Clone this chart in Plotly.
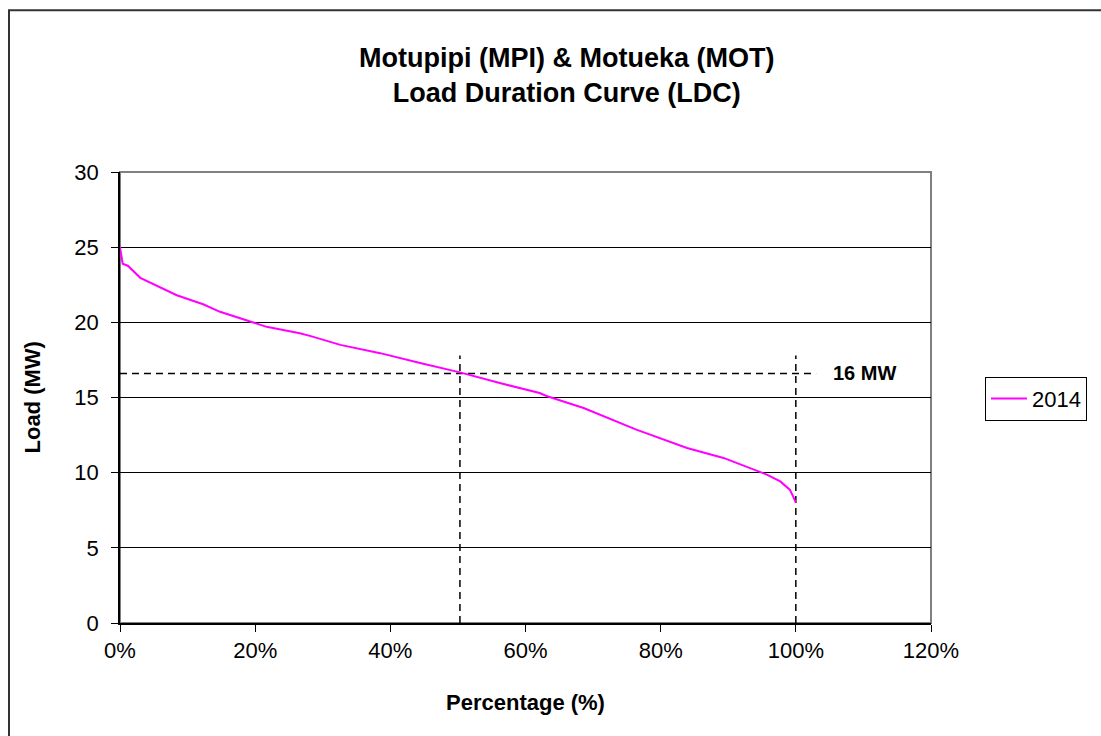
import plotly.graph_objects as go

# Data
pct = [0, 0.4, 1.2, 3.0, 8.4, 12.3, 14.8, 19.2, 21.7, 26.6, 28.1, 32.6, 38.5,
       44.4, 50.3, 56.2, 62.1, 63.1, 68.6, 76.4, 83.9, 89.3, 95.7, 97.7,
       99.1, 99.6, 100]
load_2014 = [25.0, 23.9, 23.75, 22.96, 21.8, 21.2, 20.7, 20.05, 19.7, 19.28,
             19.1, 18.5, 17.95, 17.3, 16.67, 15.96, 15.3, 15.1, 14.3, 12.86,
             11.64, 10.98, 9.87, 9.42, 8.87, 8.42, 8.0]
series_name = "2014"

marker_load = 16.6          # horizontal reference line level
marker_pcts = [50.3, 100]   # vertical reference lines
marker_top = 17.8           # top of vertical reference lines
marker_hline_end = 103
marker_label = "16 MW"
marker_label_x = 110.2

x_ticks = [0, 20, 40, 60, 80, 100, 120]
x_tick_labels = ["0%", "20%", "40%", "60%", "80%", "100%", "120%"]
y_ticks = [0, 5, 10, 15, 20, 25, 30]

FONT = "Arial, Liberation Sans, sans-serif"

fig = go.Figure()

dash = "7px,5px"
fig.add_trace(go.Scatter(x=[0, marker_hline_end], y=[marker_load, marker_load],
                         mode="lines", line=dict(color="black", width=1.5, dash=dash),
                         showlegend=False, hoverinfo="skip"))
for p in marker_pcts:
    fig.add_trace(go.Scatter(x=[p, p], y=[0, marker_top], mode="lines",
                             line=dict(color="black", width=1.5, dash=dash),
                             showlegend=False, hoverinfo="skip"))

fig.add_trace(go.Scatter(x=pct, y=load_2014, mode="lines", name=series_name,
                         line=dict(color="#FF00FF", width=2)))

fig.add_annotation(x=marker_label_x, y=marker_load, text="<b>" + marker_label + "</b>",
                   showarrow=False, font=dict(family=FONT, size=20, color="black"))

# Title
fig.add_annotation(xref="paper", yref="paper", x=(566 - 120) / 811, y=(623.5 - 75) / 451.5,
                   text="<b>Motupipi (MPI) & Motueka (MOT)<br>Load Duration Curve (LDC)</b>",
                   showarrow=False, font=dict(family=FONT, size=27, color="black"),
                   xanchor="center", yanchor="middle", align="center")

# Axis titles
fig.add_annotation(xref="paper", yref="paper", x=0.5, y=(623.5 - 703) / 451.5,
                   text="<b>Percentage (%)</b>", showarrow=False,
                   font=dict(family=FONT, size=22, color="black"),
                   xanchor="center", yanchor="middle")
fig.add_annotation(xref="paper", yref="paper", x=(32 - 120) / 811, y=0.5,
                   text="<b>Load (MW)</b>", showarrow=False, textangle=-90,
                   font=dict(family=FONT, size=22, color="black"),
                   xanchor="center", yanchor="middle")

# Plot-area top/right grey border
fig.add_shape(type="rect", xref="paper", yref="paper", x0=0, x1=1, y0=0, y1=1,
              line=dict(color="#808080", width=2), layer="below")
# Outer chart frame (right and bottom edges lie outside the picture)
fig.add_shape(type="rect", xref="paper", yref="paper",
              x0=(9 - 120) / 811, x1=(1130 - 120) / 811,
              y0=(623.5 - 760) / 451.5, y1=(623.5 - 10) / 451.5,
              line=dict(color="#333333", width=2))

fig.update_xaxes(range=[0, 120], tickvals=x_ticks, ticktext=x_tick_labels,
                 showgrid=False, zeroline=False, showline=True, linecolor="black",
                 linewidth=1.5, ticks="outside", ticklen=7, tickcolor="black",
                 tickfont=dict(family=FONT, size=22, color="black"))
fig.update_yaxes(range=[0, 30], tickvals=y_ticks, showgrid=True, gridcolor="black",
                 gridwidth=1, zeroline=False, showline=True, linecolor="black",
                 linewidth=1.5, ticks="outside", ticklen=7, tickcolor="black",
                 ticklabelstandoff=8,
                 tickfont=dict(family=FONT, size=22, color="black"))

fig.update_layout(
    width=1101, height=736,
    margin=dict(l=120, r=170, t=172, b=112.5),
    paper_bgcolor="white", plot_bgcolor="white",
    font=dict(family=FONT, color="black"),
    legend=dict(x=(985 - 120) / 811, y=(623.5 - 377) / 451.5,
                xanchor="left", yanchor="top", bordercolor="black", borderwidth=1,
                itemwidth=36,
                font=dict(family=FONT, size=22, color="black"), bgcolor="white"),
    showlegend=True,
)

fig.write_html("out.html", config={"displayModeBar": False},
               post_script="document.body.style.margin='0';document.body.style.overflow='hidden';")
